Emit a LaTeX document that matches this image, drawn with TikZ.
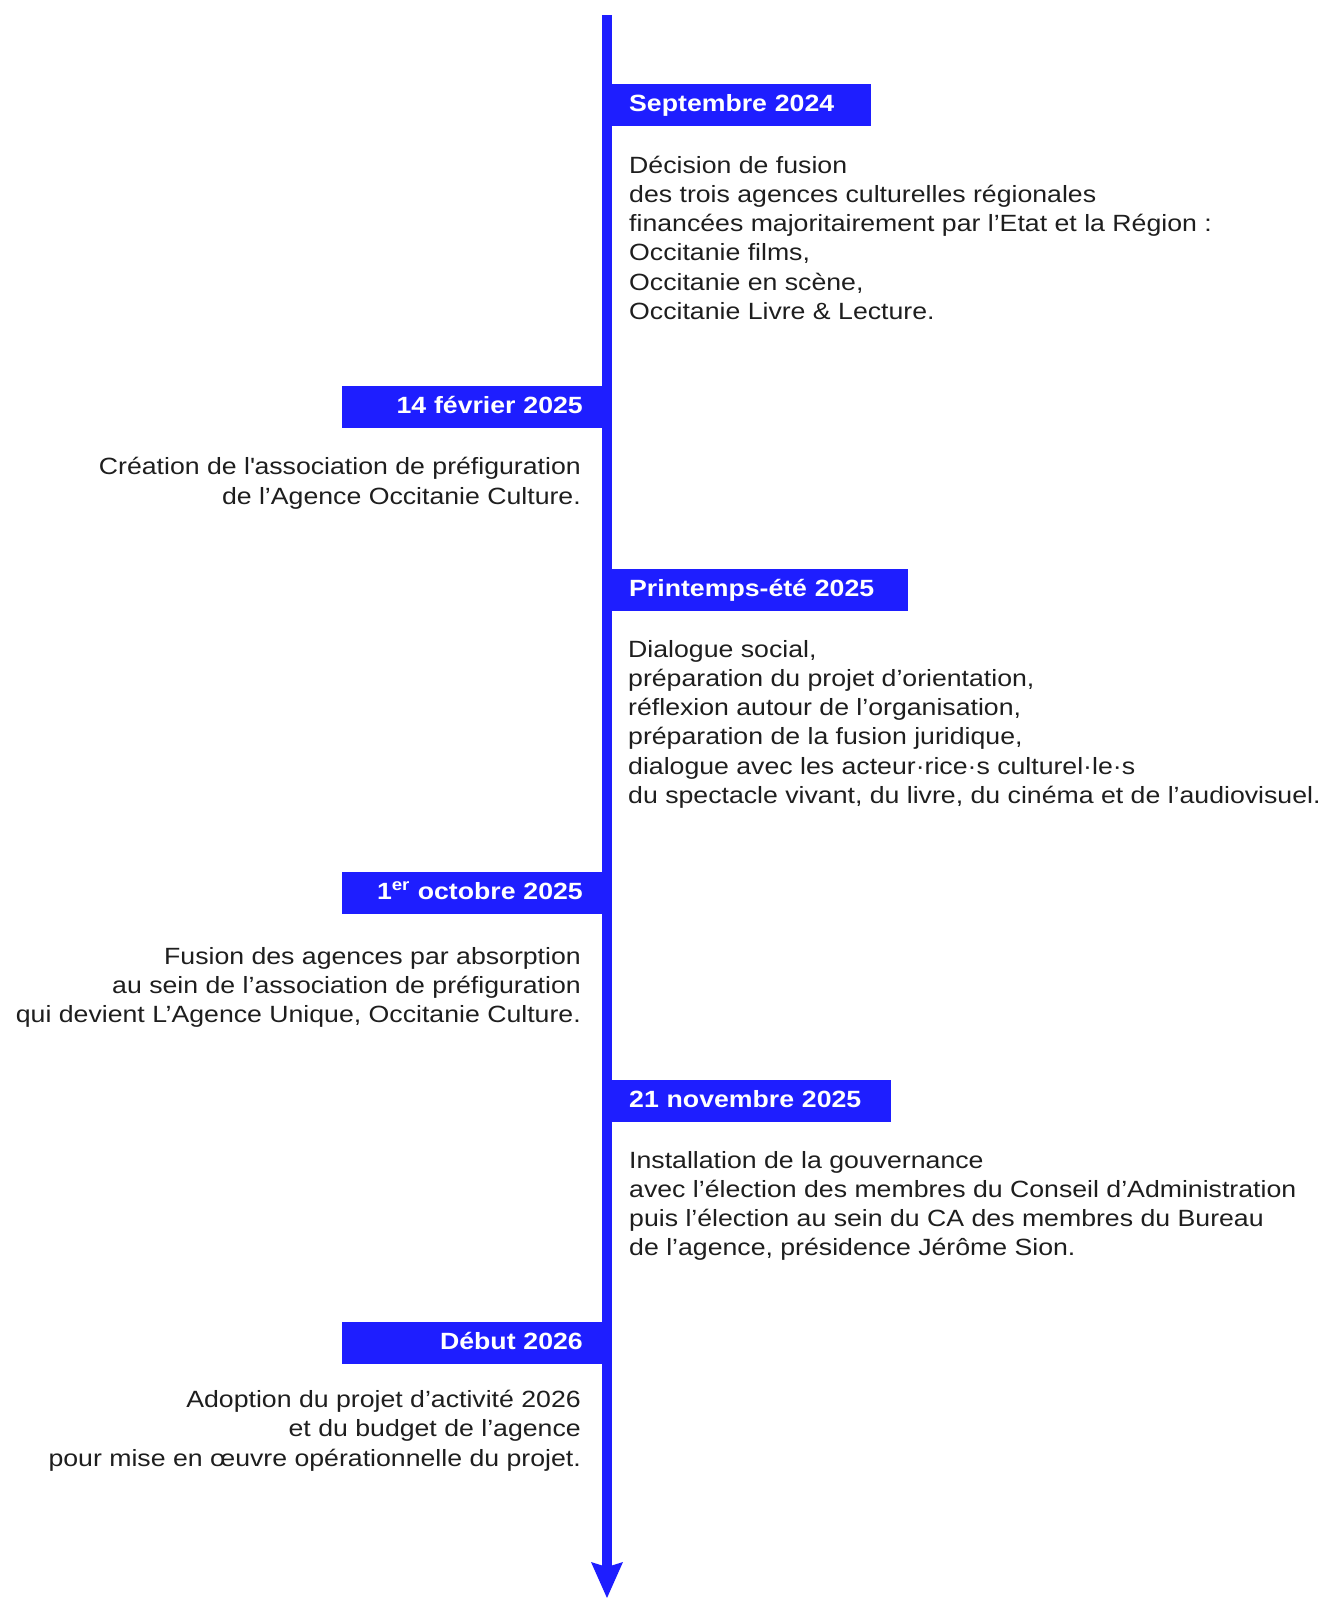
\documentclass[tikz,border=0pt]{standalone}
\usepackage{fontspec}
\setmainfont{Liberation Sans}[FakeStretch=1.135]
\usetikzlibrary{arrows.meta}
\definecolor{tlblue}{RGB}{30,30,255}
\definecolor{tltext}{RGB}{30,30,30}
\begin{document}
\begin{tikzpicture}[x=1pt,y=-1pt,
  datebox/.style={fill=tlblue, text=white, font=\bfseries\fontsize{23.5pt}{28pt}\selectfont,
    inner ysep=12.65pt, text height=15pt, text depth=1.7pt},
  dateR/.style={datebox, anchor=north west, inner xsep=22pt, align=left},
  dateL/.style={datebox, anchor=north east, inner xsep=20pt, align=right, text width=221pt},
  body/.style={text=tltext, font=\fontsize{23.5pt}{29.3pt}\selectfont, inner sep=0pt},
  bodyR/.style={body, anchor=base west, align=left},
  bodyL/.style={body, anchor=base east, align=right}]
\useasboundingbox (0,0) rectangle (1324,1598);
\coordinate (top) at (607,15);
\coordinate (bot) at (607,1598);
\draw[tlblue, line width=10pt, -{Stealth[length=36pt,width=32pt,inset=5pt,line width=0pt]}] (top) -- (bot);

% body nodes: base anchor = baseline of the last line
\node[dateR, text width=220pt] (d1) at (607,84) {Septembre 2024};
\node[bodyR] (t1) at (629,319.5) {Décision de fusion\\des trois agences culturelles régionales\\financées majoritairement par l’Etat et la Région :\\Occitanie films,\\Occitanie en scène,\\Occitanie Livre \& Lecture.};

\node[dateL] (d2) at (603,386) {14 février 2025};
\node[bodyL] (t2) at (581,504) {Création de l\textquotesingle association de préfiguration\\de l’Agence Occitanie Culture.};

\node[dateR, text width=257pt] (d3) at (607,569) {Printemps-été 2025};
\node[bodyR] (t3) at (628,803.5) {Dialogue social,\\préparation du projet d’orientation,\\réflexion autour de l’organisation,\\préparation de la fusion juridique,\\dialogue avec les acteur·rice·s culturel·le·s\\du spectacle vivant, du livre, du cinéma et de l’audiovisuel.};

\node[dateL] (d4) at (603,872) {1\textsuperscript{er} octobre 2025};
\node[bodyL] (t4) at (581,1022.6) {Fusion des agences par absorption\\au sein de l’association de préfiguration\\qui devient L’Agence Unique, Occitanie Culture.};

\node[dateR, text width=240pt] (d5) at (607,1080) {21 novembre 2025};
\node[bodyR] (t5) at (629,1255.9) {Installation de la gouvernance\\avec l’élection des membres du Conseil d’Administration\\puis l’élection au sein du CA des membres du Bureau\\de l’agence, présidence Jérôme Sion.};

\node[dateL] (d6) at (603,1322) {Début 2026};
\node[bodyL] (t6) at (581,1466) {Adoption du projet d’activité 2026\\et du budget de l’agence\hspace*{7.4pt}\\pour mise en œuvre opérationnelle du projet.};
\end{tikzpicture}
\end{document}
